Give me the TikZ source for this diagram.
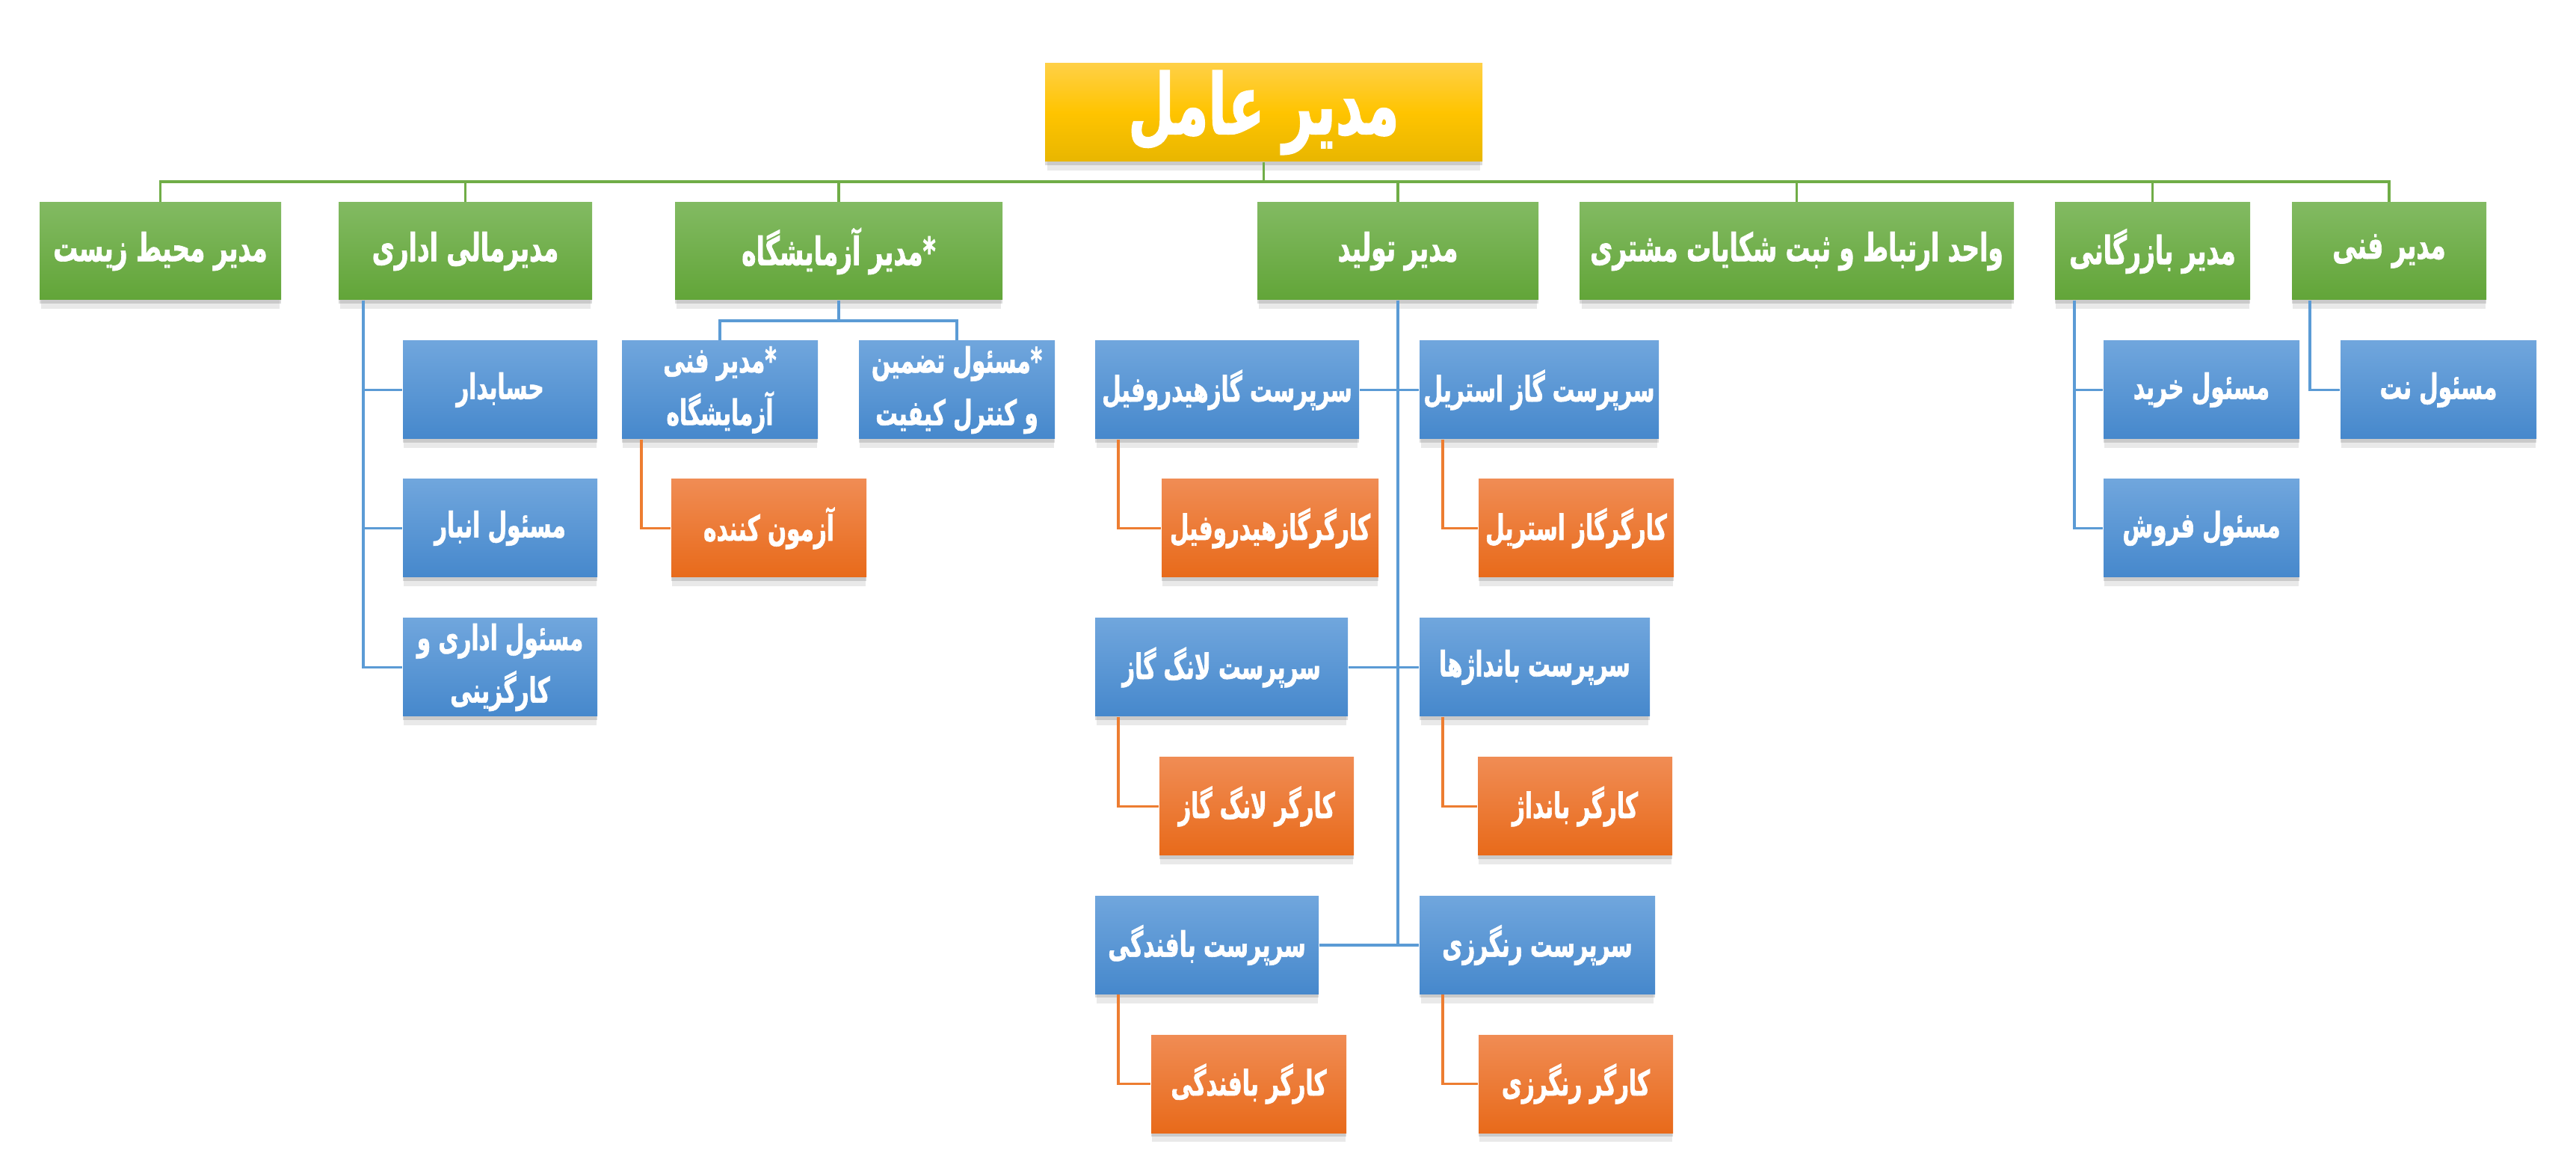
\documentclass[tikz,border=0pt]{standalone}
\usepackage{fontspec}
\usepackage{xcolor}
\usepackage{tikz}
\usetikzlibrary{shadows}
\newfontfamily\farsi[Script=Arabic,FakeStretch=0.63,BoldFeatures={FakeBold=1.3}]{DejaVu Sans}
\TeXXeTstate=1
\newcommand{\rl}[1]{\beginR#1\endR}
\definecolor{goldtop}{RGB}{255,208,70}
\definecolor{goldmid}{RGB}{255,196,0}
\definecolor{goldbot}{RGB}{232,182,0}
\definecolor{greentop}{RGB}{130,186,98}
\definecolor{greenbot}{RGB}{98,165,56}
\definecolor{bluetop}{RGB}{112,166,221}
\definecolor{bluebot}{RGB}{70,136,204}
\definecolor{orgtop}{RGB}{240,140,84}
\definecolor{orgbot}{RGB}{232,106,26}
\definecolor{greenline}{RGB}{112,173,71}
\definecolor{blueline}{RGB}{91,155,213}
\definecolor{orgline}{RGB}{237,125,49}

\begin{document}
\begin{tikzpicture}[
  card/.style={rectangle, inner sep=0pt, minimum height=1.31cm, text=white, align=center,
    font=\farsi\bfseries\fontsize{13.3}{20}\selectfont,
    drop shadow={shadow xshift=0pt, shadow yshift=-0.05cm, opacity=0.2, fill=black!70},
    drop shadow={shadow xshift=0pt, shadow yshift=-0.13cm, shadow scale=0.99, opacity=0.12, fill=black!70}},
  ceobox/.style={card, top color=goldtop, bottom color=goldbot, middle color=goldmid,
    font=\farsi\bfseries\fontsize{32}{36}\selectfont},
  mgrbox/.style={card, minimum height=1.30cm, top color=greentop, bottom color=greenbot,
    font=\farsi\bfseries\fontsize{14.8}{18}\selectfont},
  staffbox/.style={card, top color=bluetop, bottom color=bluebot},
  workbox/.style={card, top color=orgtop, bottom color=orgbot},
  gline/.style={greenline, line width=1.1pt},
  bline/.style={blueline, line width=1.1pt},
  oline/.style={orgline, line width=1.1pt}]
  \useasboundingbox (0,0) rectangle (34.46,15.41);
  \node[ceobox, minimum width=5.85cm] (ceo) at (16.905,13.905) {\rl{مدیر عامل}};
  \coordinate (bus) at (16.905,12.98);
  \foreach \nm/\x/\w/\txt in {env/2.145/3.23/{مدیر محیط زیست}, fin/6.225/3.39/{مدیرمالی اداری},
      lab/11.22/4.38/{*مدیر آزمایشگاه}, prod/18.70/3.76/{مدیر تولید},
      cust/24.035/5.81/{واحد ارتباط و ثبت شکایات مشتری}, com/28.795/2.61/{مدیر بازرگانی},
      tech/31.96/2.60/{مدیر فنی}} {
    \node[mgrbox, minimum width=\w cm] (\nm) at (\x,12.05) {\rl{\txt}};
  }
  \draw[gline] (ceo.south) -- (bus);
  \foreach \nm in {env,fin,lab,prod,cust,com,tech}
    \draw[gline] (\nm.north) |- (bus);

  \node[staffbox, minimum width=2.60cm] (acc) at (6.69,10.195) {\rl{حسابدار}};
  \node[staffbox, minimum width=2.60cm] (store) at (6.69,8.345) {\rl{مسئول انبار}};
  \node[staffbox, minimum width=2.60cm] (admin) at (6.69,6.485) {\rl{مسئول اداری و}\\\rl{کارگزینی}};
  \foreach \nm in {acc,store,admin}
    \draw[bline] ([xshift=0.34cm]fin.south west) |- (\nm.west);

  \node[staffbox, minimum width=2.62cm] (labtech) at (9.63,10.195) {\rl{*مدیر فنی}\\\rl{آزمایشگاه}};
  \node[staffbox, minimum width=2.62cm] (qc) at (12.80,10.195) {\rl{*مسئول تضمین}\\\rl{و کنترل کیفیت}};
  \node[workbox, minimum width=2.61cm] (tester) at (10.285,8.345) {\rl{آزمون کننده}};
  \draw[bline] (labtech.north) |- ([yshift=-0.27cm]lab.south) -- (lab.south);
  \draw[bline] (qc.north) |- ([yshift=-0.27cm]lab.south);
  \draw[oline] ([xshift=0.27cm]labtech.south west) |- (tester.west);

  \node[staffbox, minimum width=3.53cm] (hydsup) at (16.415,10.195) {\rl{سرپرست گازهیدروفیل}};
  \node[staffbox, minimum width=3.20cm] (stsup) at (20.59,10.195) {\rl{سرپرست گاز استریل}};
  \node[workbox, minimum width=2.90cm] (hydwk) at (16.99,8.345) {\rl{کارگرگازهیدروفیل}};
  \node[workbox, minimum width=2.61cm] (stwk) at (21.085,8.345) {\rl{کارگرگاز استریل}};
  \node[staffbox, minimum width=3.38cm] (langsup) at (16.34,6.485) {\rl{سرپرست لانگ گاز}};
  \node[staffbox, minimum width=3.08cm] (bndsup) at (20.53,6.485) {\rl{سرپرست بانداژها}};
  \node[workbox, minimum width=2.60cm] (langwk) at (16.81,4.625) {\rl{کارگر لانگ گاز}};
  \node[workbox, minimum width=2.60cm] (bndwk) at (21.07,4.625) {\rl{کارگر بانداژ}};
  \node[staffbox, minimum width=2.99cm] (knitsup) at (16.145,2.77) {\rl{سرپرست بافندگی}};
  \node[staffbox, minimum width=3.15cm] (dyesup) at (20.565,2.77) {\rl{سرپرست رنگرزی}};
  \node[workbox, minimum width=2.61cm] (knitwk) at (16.705,0.915) {\rl{کارگر بافندگی}};
  \node[workbox, minimum width=2.60cm] (dyewk) at (21.08,0.915) {\rl{کارگر رنگرزی}};
  \foreach \lf/\rt in {hydsup/stsup,langsup/bndsup,knitsup/dyesup} {
    \draw[bline] (prod.south) |- (\lf.east);
    \draw[bline] (prod.south) |- (\rt.west);
  }
  \foreach \sup/\wk in {hydsup/hydwk,stsup/stwk,langsup/langwk,bndsup/bndwk,knitsup/knitwk,dyesup/dyewk}
    \draw[oline] ([xshift=0.32cm]\sup.south west) |- (\wk.west);

  \node[staffbox, minimum width=2.62cm] (buy) at (29.45,10.195) {\rl{مسئول خرید}};
  \node[staffbox, minimum width=2.62cm] (sell) at (29.45,8.345) {\rl{مسئول فروش}};
  \node[staffbox, minimum width=2.62cm] (net) at (32.62,10.195) {\rl{مسئول نت}};
  \draw[bline] ([xshift=0.27cm]com.south west) |- (buy.west);
  \draw[bline] ([xshift=0.27cm]com.south west) |- (sell.west);
  \draw[bline] ([xshift=0.25cm]tech.south west) |- (net.west);
\end{tikzpicture}
\end{document}
